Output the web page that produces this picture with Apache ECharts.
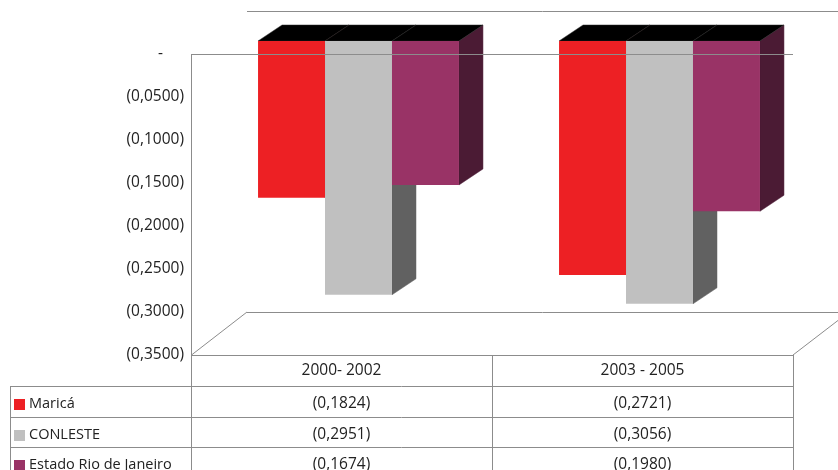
<!DOCTYPE html>
<html>
<head>
<meta charset="utf-8">
<script src="https://cdn.jsdelivr.net/npm/echarts@6/dist/echarts.min.js"></script>
<style>
  html, body { margin: 0; padding: 0; background: #fff; }
  #chart { width: 838px; height: 470px; }
</style>
</head>
<body>
<div id="chart"></div>
<script>
// Categories and series values
const categories = ['2000- 2002', '2003 - 2005'];
const seriesNames = ['Maricá', 'CONLESTE', 'Estado Rio de Janeiro'];
const marica = [-0.1824, -0.2721];
const conleste = [-0.2951, -0.3056];
const estadoRJ = [-0.1674, -0.1980];
const yMin = -0.35;
const yMax = 0;
const yInterval = 0.05;

const seriesValues = [marica, conleste, estadoRJ];

// Styling
const FONT = '"Open Sans", "DejaVu Sans", sans-serif';
const NUM_SIZE = 15.5;
const NAME_SIZE = 14.5;
const TEXT = '#222';
const LINE = '#8c8c8c';
const frontColors = ['#ED2024', '#C0C0C0', '#993366'];
const sideColors = ['#7a1214', '#616161', '#4B1B34'];
const topColor = '#000000';

// Plot box (front plane) and 3D depth of the walls
const GRID = { left: 191, top: 54, right: 45, bottom: 115 };
const W = 838, H = 470;
const PX0 = GRID.left, PX1 = W - GRID.right, PY0 = GRID.top, PY1 = H - GRID.bottom;
const WALL_DX = 56, WALL_DY = -43;
// bar boxes sit part-way into the depth
const FACE_DX = 17, FACE_DY = -13;
const BOX_DX = 24, BOX_DY = -16;
const BAR_FRAC = 0.2225;

// Data table rows
const ROW_Y = [355, 386, 417, 447, 478];
const ROW_TEXT_SHIFT = 2.5;
const TABLE_LEFT = 10;

const fmt = v => v === 0 ? '-' : '(' + Math.abs(v).toFixed(4).replace('.', ',') + ')';

function boxRenderer(s) {
  return function (params, api) {
    const ci = api.value(0);
    const v = api.value(1);
    const base = api.coord([ci, 0]);
    const end = api.coord([ci, v]);
    const band = api.size([1, 0])[0];
    const bw = band * BAR_FRAC;
    const x0 = base[0] - 1.5 * bw + s * bw + FACE_DX;
    const x1 = x0 + bw;
    const yt = base[1] + FACE_DY;
    const yb = end[1] + FACE_DY;
    return {
      type: 'group',
      children: [
        { type: 'polygon', shape: { points: [[x1, yt], [x1 + BOX_DX, yt + BOX_DY], [x1 + BOX_DX, yb + BOX_DY], [x1, yb]] },
          style: { fill: sideColors[s], stroke: sideColors[s], lineWidth: 0.5 } },
        { type: 'polygon', shape: { points: [[x0, yt], [x0 + BOX_DX, yt + BOX_DY], [x1 + BOX_DX, yt + BOX_DY], [x1, yt]] },
          style: { fill: topColor, stroke: '#2a2a2a', lineWidth: 0.5 } },
        { type: 'rect', shape: { x: x0, y: yt, width: bw, height: yb - yt },
          style: { fill: frontColors[s] } }
      ]
    };
  };
}

const series = seriesValues.map((vals, s) => ({
  name: seriesNames[s],
  type: 'custom',
  renderItem: boxRenderer(s),
  encode: { x: 0, y: 1 },
  data: vals.map((v, i) => [i, v]),
  z: 2
}));

// Frame lines: walls, floor, zero edge and data-table grid
const graphics = [];
function line(x1, y1, x2, y2, z) {
  graphics.push({ type: 'line', z: z || 1, silent: true,
    shape: { x1: x1, y1: y1, x2: x2, y2: y2 },
    style: { stroke: LINE, lineWidth: 1 } });
}
const h = 0.5;
// back wall top edge
line(PX0 + WALL_DX, PY0 + WALL_DY + h, W, PY0 + WALL_DY + h);
// zero edge across the front, drawn above the bars
line(PX0, PY0 + h, PX1, PY0 + h, 10);
// floor
line(PX0 + h, PY1, PX0 + WALL_DX, PY1 + WALL_DY);
line(PX0 + WALL_DX, PY1 + WALL_DY + h, W, PY1 + WALL_DY + h);
line(PX1, PY1, PX1 + WALL_DX, PY1 + WALL_DY);
// vertical axis line continuing into the table
line(PX0 + h, PY0, PX0 + h, H);
// table
line(PX0, ROW_Y[0] + h, PX1, ROW_Y[0] + h);
for (let r = 1; r < ROW_Y.length; r++) {
  line(TABLE_LEFT, ROW_Y[r] + h, PX1, ROW_Y[r] + h);
}
const colW = (PX1 - PX0) / categories.length;
for (let c = 1; c <= categories.length; c++) {
  line(Math.round(PX0 + c * colW) + h, ROW_Y[0], Math.round(PX0 + c * colW) + h, H);
}
line(TABLE_LEFT + h, ROW_Y[1], TABLE_LEFT + h, H);

// table row headers (legend keys) and values
seriesNames.forEach((name, s) => {
  const yc = (ROW_Y[s + 1] + ROW_Y[s + 2]) / 2 + ROW_TEXT_SHIFT;
  graphics.push({ type: 'rect', z: 3, silent: true,
    shape: { x: 14, y: Math.round(yc) - 5, width: 11, height: 11 },
    style: { fill: frontColors[s] } });
  graphics.push({ type: 'text', z: 3, silent: true, x: 29, y: yc,
    style: { text: name, font: NAME_SIZE + 'px ' + FONT, fill: TEXT, verticalAlign: 'middle', align: 'left' } });
  seriesValues[s].forEach((v, i) => {
    graphics.push({ type: 'text', z: 3, silent: true, x: PX0 + (i + 0.5) * colW, y: yc,
      style: { text: fmt(v), font: NUM_SIZE + 'px ' + FONT, fill: TEXT, verticalAlign: 'middle', align: 'center' } });
  });
});

const chart = echarts.init(document.getElementById('chart'), null, { renderer: 'canvas' });
chart.setOption({
  animation: false,
  backgroundColor: '#ffffff',
  grid: { left: GRID.left, top: GRID.top, right: GRID.right, bottom: GRID.bottom, containLabel: false },
  xAxis: {
    type: 'category',
    data: categories,
    axisLine: { show: false },
    axisTick: { show: false },
    splitLine: { show: false },
    axisLabel: { margin: 16, verticalAlign: 'middle', color: TEXT, fontSize: NUM_SIZE, fontFamily: FONT }
  },
  yAxis: {
    type: 'value',
    min: yMin,
    max: yMax,
    interval: yInterval,
    axisLine: { show: false },
    axisTick: { show: false },
    splitLine: { show: false },
    axisLabel: {
      margin: 7,
      color: TEXT,
      fontSize: NUM_SIZE,
      fontFamily: FONT,
      formatter: v => Math.abs(v) < 1e-9 ? '{d|-}' : fmt(v),
      rich: { d: { padding: [0, 21, 0, 0], color: TEXT, fontSize: NUM_SIZE, fontFamily: FONT } }
    }
  },
  graphic: { elements: graphics },
  series: series
});
</script>
</body>
</html>
